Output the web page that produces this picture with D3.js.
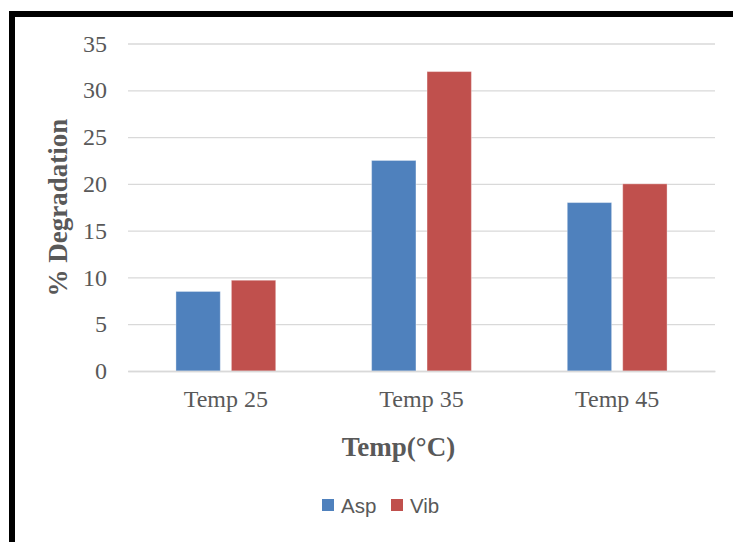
<!DOCTYPE html>
<html>
<head>
<meta charset="utf-8">
<script src="https://cdn.jsdelivr.net/npm/d3@7"></script>
<style>
  html, body { margin: 0; padding: 0; background: #fff; }
  svg { display: block; }
</style>
</head>
<body>
<div id="chart"></div>
<script>
// Degradation by storage temperature
const categories = ["Temp 25", "Temp 35", "Temp 45"];
const seriesNames = ["Asp", "Vib"];
const aspValues = [8.5, 22.5, 18];
const vibValues = [9.7, 32, 20];
const yTicks = [0, 5, 10, 15, 20, 25, 30, 35];

const W = 733, H = 542;
const colors = { Asp: "#4f81bd", Vib: "#c0504d" };
const serif = "'Liberation Serif', 'Times New Roman', serif";

const svg = d3.select("#chart").append("svg")
  .attr("width", W).attr("height", H);

// frame: heavy rule along the top and left
svg.append("rect").attr("x", 0).attr("y", 0).attr("width", W).attr("height", H).attr("fill", "#fff");
svg.append("line").attr("x1", 9).attr("x2", W).attr("y1", 14).attr("y2", 14)
  .attr("stroke", "#000").attr("stroke-width", 6);
svg.append("line").attr("x1", 12).attr("x2", 12).attr("y1", 11).attr("y2", H)
  .attr("stroke", "#000").attr("stroke-width", 6);

const plot = { left: 128, right: 715, top: 43.5, bottom: 371 };

const y = d3.scaleLinear().domain([0, 35]).range([plot.bottom, plot.top]);
const x0 = d3.scaleBand().domain(categories).range([plot.left, plot.right]).paddingInner(0.49).paddingOuter(0.245);
const x1 = d3.scaleBand().domain(seriesNames).range([0, x0.bandwidth()]).paddingInner(0.2);

// gridlines and value labels
const yAxis = d3.axisLeft(y).tickValues(yTicks).tickSize(-(plot.right - plot.left)).tickPadding(21);
const gy = svg.append("g").attr("transform", `translate(${plot.left},0)`).call(yAxis);
gy.select(".domain").remove();
gy.selectAll(".tick line").attr("stroke", "#d9d9d9").attr("stroke-width", 1.3);
gy.selectAll(".tick text").attr("fill", "#595959").attr("font-family", serif).attr("font-size", 24);

// bars
const rows = categories.map((c, i) => ({ cat: c, Asp: aspValues[i], Vib: vibValues[i] }));
const groups = svg.append("g").selectAll("g").data(rows).join("g")
  .attr("transform", d => `translate(${x0(d.cat)},0)`);
groups.selectAll("rect").data(d => seriesNames.map(k => ({ key: k, value: d[k] }))).join("rect")
  .attr("x", d => x1(d.key))
  .attr("y", d => y(d.value))
  .attr("width", x1.bandwidth())
  .attr("height", d => y(0) - y(d.value))
  .attr("fill", d => colors[d.key])
  .attr("stroke", "rgba(255,255,255,0.35)")
  .attr("stroke-width", 1);

// category axis
const xAxis = d3.axisBottom(x0).tickSize(0).tickPadding(19);
const gx = svg.append("g").attr("transform", `translate(0,${plot.bottom})`).call(xAxis);
gx.select(".domain").attr("stroke", "#d9d9d9").attr("stroke-width", 1.3);
gx.selectAll(".tick text").attr("fill", "#595959").attr("font-family", serif).attr("font-size", 24);

// axis titles
svg.append("text").attr("x", 398.5).attr("y", 456).attr("text-anchor", "middle")
  .attr("font-family", serif).attr("font-weight", "bold").attr("font-size", 27)
  .attr("fill", "#595959").text("Temp(°C)");
svg.append("text").attr("transform", "translate(67,207.5) rotate(-90)").attr("text-anchor", "middle")
  .attr("font-family", serif).attr("font-weight", "bold").attr("font-size", 27)
  .attr("fill", "#595959").text("% Degradation");

// legend
const legend = svg.append("g").attr("transform", "translate(322,499)");
const items = legend.selectAll("g").data(seriesNames).join("g")
  .attr("transform", (d, i) => `translate(${i * 69},0)`);
items.append("rect").attr("width", 12).attr("height", 12).attr("fill", d => colors[d]);
items.append("text").attr("x", 19).attr("y", 13.5).attr("font-family", "'Liberation Sans', 'Open Sans', sans-serif")
  .attr("font-size", 20.5).attr("fill", "#595959").text(d => d);
</script>
</body>
</html>
